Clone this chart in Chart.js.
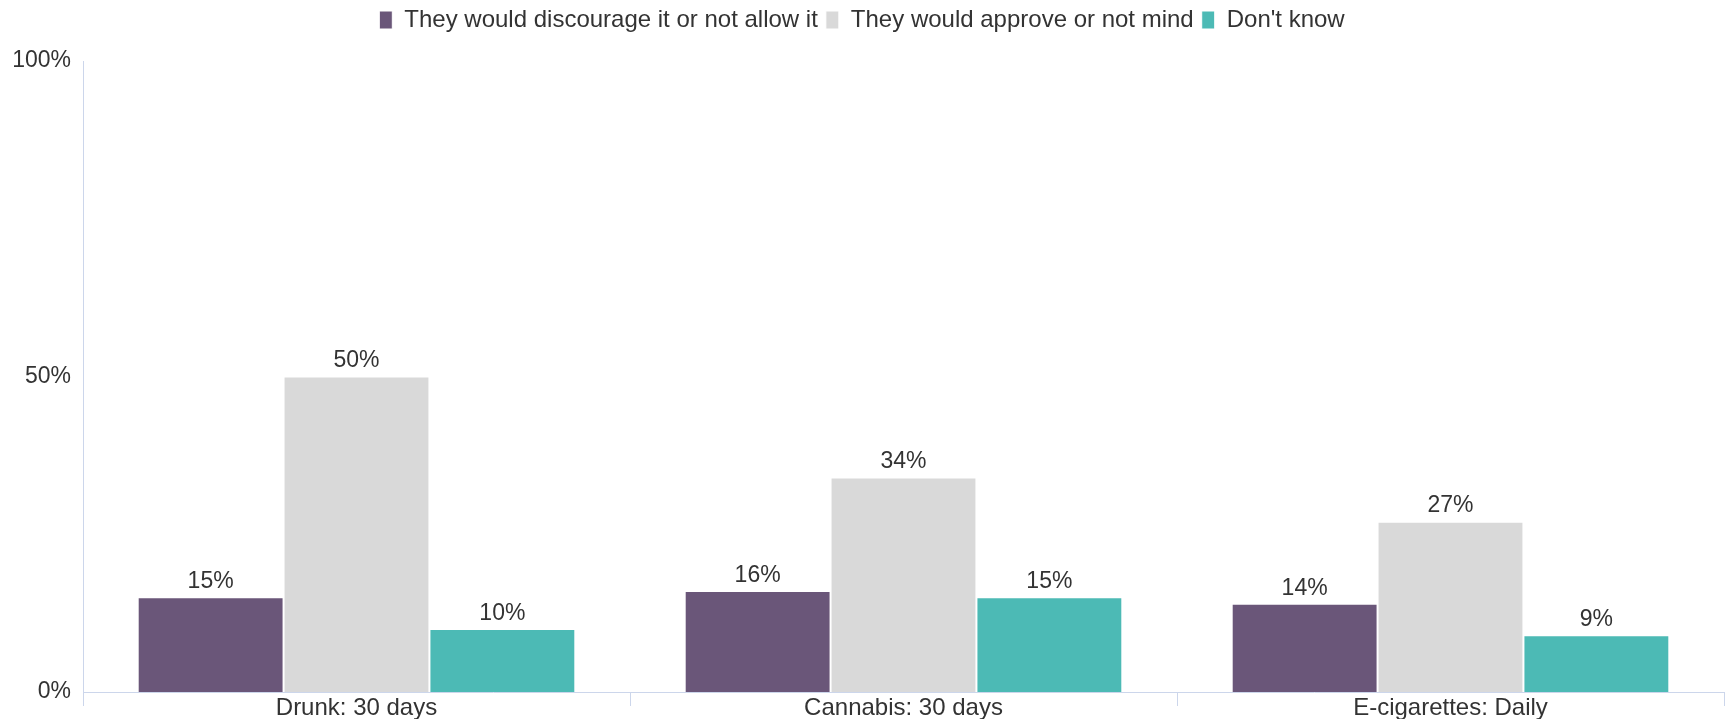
<!DOCTYPE html>
<html>
<head>
<meta charset="utf-8">
<script src="https://cdn.jsdelivr.net/npm/chart.js@4"></script>
<style>
    html, body { margin: 0; padding: 0; background: #ffffff; }
    #wrap { width: 1733px; height: 719px; }
</style>
</head>
<body>
<div id="wrap"><canvas id="chart"></canvas></div>
<script>
// Data
const categories = ["Drunk: 30 days", "Cannabis: 30 days", "E-cigarettes: Daily"];
const seriesNames = ["They would discourage it or not allow it", "They would approve or not mind", "Don't know"];
const discourageValues = [15, 16, 14];
const approveValues = [50, 34, 27];
const dontKnowValues = [10, 15, 9];
const yTicks = [0, 50, 100];

const seriesColors = ["#6a5679", "#d9d9d9", "#4cbab5"];
const axisColor = "#ccd6eb";
const textColor = "#333333";
const fontFamily = "'Liberation Sans', Arial, sans-serif";

// Draw the value above each bar
const valueLabels = {
    id: "valueLabels",
    afterDatasetsDraw(chart) {
        const ctx = chart.ctx;
        ctx.save();
        ctx.font = "23px " + fontFamily;
        ctx.fillStyle = textColor;
        ctx.textAlign = "center";
        ctx.textBaseline = "bottom";
        chart.data.datasets.forEach((ds, i) => {
            chart.getDatasetMeta(i).data.forEach((bar, j) => {
                ctx.fillText(ds.data[j] + "%", bar.x, bar.y - 4);
            });
        });
        ctx.restore();
    }
};

// Extra room between the legend and the plot
const legendSpacing = {
    id: "legendSpacing",
    beforeInit(chart) {
        const origFit = chart.legend.fit;
        chart.legend.fit = function () {
            origFit.bind(chart.legend)();
            this.height += 19;
        };
    }
};

const datasets = [discourageValues, approveValues, dontKnowValues].map((values, i) => ({
    label: seriesNames[i],
    data: values,
    backgroundColor: seriesColors[i],
    borderColor: "#ffffff",
    borderWidth: 1,
    barPercentage: 1,
    categoryPercentage: 0.8
}));

new Chart(document.getElementById("chart"), {
    type: "bar",
    data: { labels: categories, datasets: datasets },
    plugins: [valueLabels, legendSpacing],
    options: {
        responsive: true,
        maintainAspectRatio: false,
        animation: false,
        layout: { padding: { top: 0, right: 9, bottom: 0, left: 0 } },
        plugins: {
            tooltip: { enabled: false },
            legend: {
                position: "top",
                labels: {
                    boxWidth: 13,
                    boxHeight: 18,
                    padding: 8,
                    color: textColor,
                    font: { family: fontFamily, size: 24 }
                }
            }
        },
        scales: {
            x: {
                grid: { display: true, drawOnChartArea: false, drawTicks: true, tickLength: 14, color: axisColor },
                border: { display: true, color: axisColor, width: 1 },
                ticks: { color: textColor, padding: -12, font: { family: fontFamily, size: 24 } },
                afterFit(scale) { scale.height = 27; }
            },
            y: {
                min: 0,
                max: 100,
                grid: { display: false, drawTicks: false },
                border: { display: true, color: axisColor, width: 1 },
                ticks: {
                    stepSize: 50,
                    padding: 12,
                    color: textColor,
                    font: { family: fontFamily, size: 23 },
                    callback: (v) => yTicks.includes(v) ? v + "%" : ""
                },
                afterFit(scale) { scale.width = 83; }
            }
        }
    }
});
</script>
</body>
</html>
